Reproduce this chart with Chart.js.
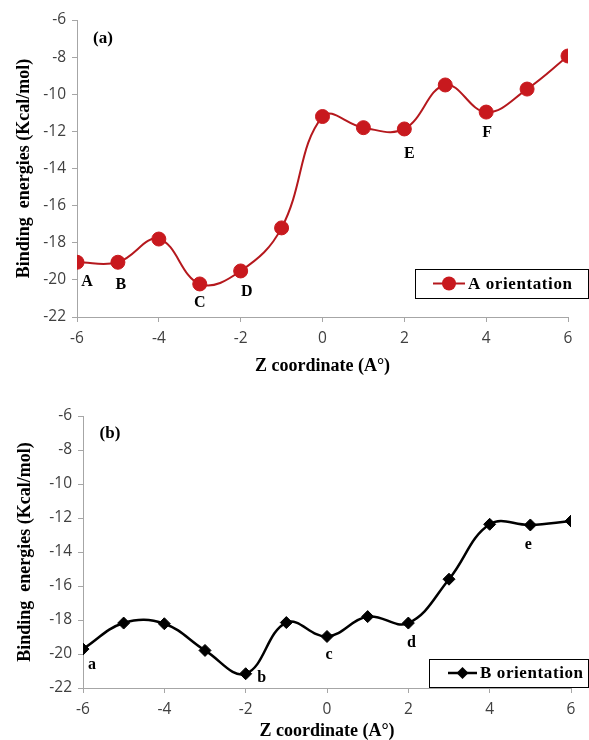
<!DOCTYPE html>
<html>
<head>
<meta charset="utf-8">
<script src="https://cdn.jsdelivr.net/npm/chart.js@4/dist/chart.umd.min.js"></script>
<style>
  body { margin: 0; background: #fff; }
  canvas { display: block; }
</style>
</head>
<body>
<canvas id="chartA" width="589" height="380"></canvas>
<canvas id="chartB" width="589" height="360"></canvas>
<script>
// Z coordinate (A°) and binding energies (Kcal/mol)
const zCoords = [-6, -5, -4, -3, -2, -1, 0, 1, 2, 3, 4, 5, 6];
const energiesA = [-19.05, -19.05, -17.8, -20.22, -19.52, -17.2, -11.2, -11.8, -11.87, -9.5, -10.96, -9.72, -7.94];
const energiesB = [-19.71, -18.18, -18.22, -19.79, -21.16, -18.15, -18.97, -17.8, -18.18, -15.6, -12.37, -12.41, -12.18];
const pointLabelsA = ['A', 'B', '', 'C', 'D', '', '', '', 'E', '', 'F', '', ''];
const pointLabelsB = ['a', '', '', '', 'b', '', 'c', '', 'd', '', '', 'e', ''];
const yTicks = [-22, -20, -18, -16, -14, -12, -10, -8, -6];
const xTicks = [-6, -4, -2, 0, 2, 4, 6];

// label offsets from their point (px)
const offsetsA = [[10, 20], [3, 23], [0, 0], [0, 19], [6, 21], [0, 0], [0, 0], [0, 0], [5, 25], [0, 0], [1, 21], [0, 0], [0, 0]];
const offsetsB = [[9, 16], [0, 0], [0, 0], [0, 0], [16, 4], [0, 0], [2, 18], [0, 0], [3, 20], [0, 0], [0, 0], [-2, 20], [0, 0]];

const serifBold = '"Liberation Serif", "Times New Roman", serif';
const tickFont = { family: '"Open Sans", sans-serif', size: 15.5 };

const toPoints = (vals) => zCoords.map((z, i) => ({ x: z, y: vals[i] }));

const annotate = {
  id: 'annotate',
  afterDatasetsDraw(chart, args, opts) {
    const ctx = chart.ctx;
    const meta = chart.getDatasetMeta(0);
    ctx.save();
    ctx.fillStyle = '#000';
    ctx.font = 'bold 16px ' + serifBold;
    ctx.textAlign = 'center';
    ctx.textBaseline = 'middle';
    meta.data.forEach((pt, i) => {
      const txt = opts.labels[i];
      if (!txt) return;
      ctx.fillText(txt, pt.x + opts.offsets[i][0], pt.y + opts.offsets[i][1]);
    });
    // panel tag
    const area = chart.chartArea;
    ctx.font = 'bold 17px ' + serifBold;
    ctx.fillText(opts.tag, area.left + opts.tagPos[0], area.top + opts.tagPos[1]);

    // legend box
    const [bx, by, bw, bh] = opts.legendBox;
    ctx.strokeStyle = '#000';
    ctx.lineWidth = 1;
    ctx.strokeRect(bx + 0.5, by + 0.5, bw, bh);
    const ds = chart.data.datasets[0];
    const cy = by + bh / 2;
    const lx = bx + opts.legendLine[0];
    const mx = lx + opts.legendLine[1] / 2;
    ctx.strokeStyle = ds.borderColor;
    ctx.lineWidth = ds.borderWidth;
    ctx.beginPath();
    ctx.moveTo(lx, cy);
    ctx.lineTo(lx + opts.legendLine[1], cy);
    ctx.stroke();
    ctx.fillStyle = ds.pointBackgroundColor;
    ctx.beginPath();
    if (ds.pointStyle === 'circle') {
      ctx.arc(mx, cy, ds.pointRadius, 0, Math.PI * 2);
    } else {
      const r = ds.pointRadius;
      ctx.moveTo(mx, cy - r); ctx.lineTo(mx + r, cy); ctx.lineTo(mx, cy + r); ctx.lineTo(mx - r, cy); ctx.closePath();
    }
    ctx.fill();
    ctx.fillStyle = '#000';
    ctx.textAlign = 'left';
    ctx.font = 'bold 17px ' + serifBold;
    ctx.letterSpacing = '0.6px';
    ctx.fillText(ds.label, lx + opts.legendLine[1] + 3, cy + 1);
    ctx.restore();
  }
};

function makeChart(id, cfg) {
  return new Chart(document.getElementById(id), {
    type: 'line',
    data: {
      datasets: [{
        label: cfg.label,
        data: toPoints(cfg.values),
        borderColor: cfg.lineColor,
        borderWidth: cfg.lineWidth,
        pointStyle: cfg.pointStyle,
        pointRadius: cfg.pointRadius,
        pointBackgroundColor: cfg.pointColor,
        pointBorderColor: cfg.pointColor,
        pointBorderWidth: 1,
        tension: 0.4,
        fill: false
      }]
    },
    options: {
      responsive: false,
      animation: false,
      layout: { padding: cfg.padding },
      plugins: {
        legend: { display: false },
        tooltip: { enabled: false },
        annotate: cfg.annotate
      },
      scales: {
        x: {
          type: 'linear',
          min: -6,
          max: 6,
          afterFit: (s) => { s.height = cfg.xHeight; },
          afterBuildTicks: (s) => { s.ticks = xTicks.map(v => ({ value: v })); },
          border: { color: '#a6a6a6', width: 1 },
          grid: { drawOnChartArea: false, tickLength: 5, color: '#a6a6a6' },
          ticks: { font: tickFont, color: '#404040', padding: 7 },
          title: {
            display: true,
            text: 'Z coordinate (A°)',
            color: '#000',
            font: { family: serifBold, size: 18, weight: 'bold', lineHeight: 1 },
            padding: { top: 0, bottom: cfg.xTitlePad }
          }
        },
        y: {
          min: -22,
          max: -6,
          afterFit: (s) => { s.width = cfg.yWidth; },
          afterBuildTicks: (s) => { s.ticks = yTicks.map(v => ({ value: v })); },
          border: { color: '#a6a6a6', width: 1 },
          grid: { drawOnChartArea: false, tickLength: 5, color: '#a6a6a6' },
          ticks: { font: tickFont, color: '#404040', padding: 6 },
          title: {
            display: true,
            text: 'Binding  energies (Kcal/mol)',
            color: '#000',
            font: { family: serifBold, size: 18, weight: 'bold', lineHeight: 1 },
            padding: { top: cfg.yTitlePad, bottom: 0 }
          }
        }
      }
    },
    plugins: [annotate]
  });
}

makeChart('chartA', {
  label: 'A orientation',
  values: energiesA,
  lineColor: '#b5181d',
  lineWidth: 2,
  pointStyle: 'circle',
  pointRadius: 7,
  pointColor: '#c8191e',
  padding: { top: 20, right: 21, left: 0, bottom: 0 },
  xHeight: 63,
  yWidth: 77,
  xTitlePad: 5,
  yTitlePad: 15,
  annotate: {
    labels: pointLabelsA,
    offsets: offsetsA,
    tag: '(a)',
    tagPos: [26, 19],
    legendBox: [415, 269, 173, 29],
    legendLine: [18, 32]
  }
});

makeChart('chartB', {
  label: 'B orientation',
  values: energiesB,
  lineColor: '#000',
  lineWidth: 2.5,
  pointStyle: 'rectRot',
  pointRadius: 6,
  pointColor: '#000',
  padding: { top: 36, right: 18, left: 0, bottom: 0 },
  xHeight: 52,
  yWidth: 83,
  xTitlePad: 0,
  yTitlePad: 16,
  annotate: {
    labels: pointLabelsB,
    offsets: offsetsB,
    tag: '(b)',
    tagPos: [27, 18],
    legendBox: [429, 279, 159, 28],
    legendLine: [19, 29]
  }
});
</script>
</body>
</html>
